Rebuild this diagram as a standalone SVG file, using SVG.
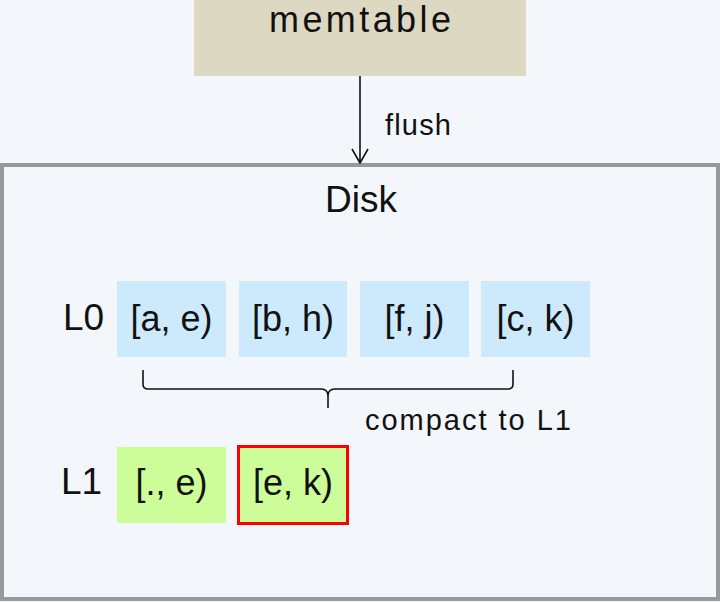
<svg xmlns="http://www.w3.org/2000/svg" width="720" height="602" viewBox="0 0 720 602">
<defs>
<style>
text{font-family:"Liberation Sans",Arial,sans-serif;fill:#111;}
.l0{fill:#cdeafc;}
.l1{fill:#ccfd99;}
.key{font-size:36px;text-anchor:middle;}
.lvl{font-size:37px;}
.conn{stroke:#111;stroke-width:1.6;fill:none;}
</style>
<marker id="arr" viewBox="0 0 16 18" refX="15" refY="9" markerWidth="16" markerHeight="18" markerUnits="userSpaceOnUse" orient="auto">
<path d="M1,1 L15,9 L1,17" fill="none" stroke="#111" stroke-width="1.6"/>
</marker>
</defs>
<rect x="0" y="0" width="720" height="602" fill="#f3f6fb"/>
<g id="disk">
<rect x="2" y="165" width="716" height="434" fill="#f3f6fb" stroke="#999" stroke-width="4"/>
<text x="361" y="212" font-size="37" text-anchor="middle">Disk</text>
</g>
<g id="memtable">
<rect x="194" y="0" width="332" height="76" fill="#ddd8c1"/>
<text x="360" y="32" font-size="36" text-anchor="middle" textLength="182" lengthAdjust="spacing">memtable</text>
</g>
<g id="connectors">
<line class="conn" x1="360" y1="76" x2="360" y2="163" marker-end="url(#arr)"/>
<text x="385" y="135" font-size="29" textLength="66" lengthAdjust="spacing">flush</text>
<path class="conn" d="M143,370 V384 Q143,389 148,389 H321 Q328,389 328,396 V408 M328,396 Q328,389 335,389 H508 Q513,389 513,384 V370"/>
<text x="365" y="430" font-size="29" textLength="206" lengthAdjust="spacing">compact to L1</text>
</g>
<g id="label-L0"><text class="lvl" x="63" y="330">L0</text></g>
<g id="label-L1"><text class="lvl" x="61" y="494">L1</text></g>
<g id="l0-ae"><rect class="l0" x="117" y="281" width="109" height="76"/><text class="key" x="171.5" y="331">[a, e)</text></g>
<g id="l0-bh"><rect class="l0" x="239" y="281" width="108" height="76"/><text class="key" x="293" y="331">[b, h)</text></g>
<g id="l0-fj"><rect class="l0" x="360" y="281" width="109" height="76"/><text class="key" x="414.5" y="331">[f, j)</text></g>
<g id="l0-ck"><rect class="l0" x="481" y="281" width="109" height="76"/><text class="key" x="535.5" y="331">[c, k)</text></g>
<g id="l1-e"><rect class="l1" x="117" y="447" width="109" height="76"/><text class="key" x="171.5" y="495">[., e)</text></g>
<g id="l1-ek"><rect class="l1" x="238.5" y="446.5" width="109" height="77" stroke="#ff0000" stroke-width="3"/><text class="key" x="293" y="495">[e, k)</text></g>
</svg>
